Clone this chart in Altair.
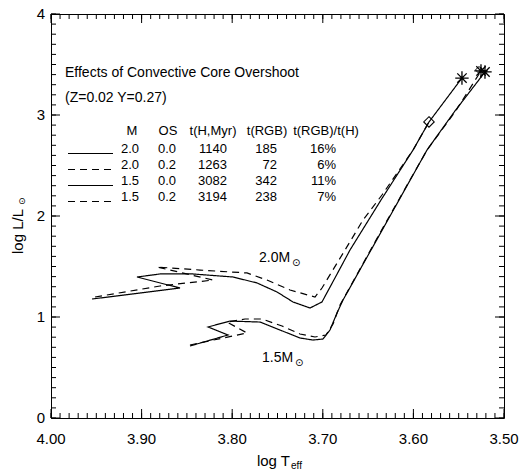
import altair as alt
import pandas as pd

FONT = "Liberation Sans"
SYM = "DejaVu Sans"

# ---------------- data: evolutionary tracks (log Teff, log L/Lsun) ----------------
s20_logT = [3.9547, 3.8576, 3.9051, 3.8797, 3.8433, 3.7991, 3.7726, 3.7506, 3.7329,
            3.7141, 3.7009, 3.6854, 3.6700, 3.6358, 3.6004, 3.5828, 3.5464]
s20_logL = [1.178, 1.287, 1.396, 1.426, 1.426, 1.396, 1.337, 1.248, 1.149,
            1.089, 1.149, 1.406, 1.663, 2.158, 2.653, 2.931, 3.366]

d20_logT = [3.9514, 3.8797, 3.8212, 3.8830, 3.8355, 3.7837, 3.7616, 3.7362, 3.7086,
            3.7009, 3.6755, 3.6556, 3.6347, 3.6004, 3.5828]
d20_logL = [1.198, 1.307, 1.366, 1.495, 1.465, 1.436, 1.366, 1.267, 1.198,
            1.287, 1.663, 1.960, 2.208, 2.653, 2.931]

s15_logT = [3.8466, 3.8046, 3.8267, 3.8024, 3.7693, 3.7472, 3.7252, 3.7108, 3.6998,
            3.6921, 3.6843, 3.6777, 3.6313, 3.5850, 3.5541, 3.5210]
s15_logL = [0.713, 0.822, 0.901, 0.960, 0.950, 0.871, 0.792, 0.772, 0.782,
            0.871, 1.040, 1.168, 1.911, 2.653, 3.040, 3.426]

d15_logT = [3.8466, 3.7837, 3.8057, 3.7859, 3.7671, 3.7450, 3.7252, 3.7086, 3.6965,
            3.6887, 3.6810, 3.6313, 3.5850, 3.5541, 3.5254]
d15_logL = [0.723, 0.842, 0.950, 0.980, 0.980, 0.911, 0.832, 0.802, 0.822,
            0.931, 1.119, 1.921, 2.653, 3.030, 3.436]

# end-point markers
star_logT = [3.5464, 3.5210, 3.5254]
star_logL = [3.366, 3.426, 3.436]
diam_logT = [3.5828]
diam_logL = [2.931]
small_diam_logT = [3.5276]
small_diam_logL = [3.446]

# table
headers = ["M", "OS", "t(H,Myr)", "t(RGB)", "t(RGB)/t(H)"]
rows_M = ["2.0", "2.0", "1.5", "1.5"]
rows_OS = ["0.0", "0.2", "0.0", "0.2"]
rows_tH = ["1140", "1263", "3082", "3194"]
rows_tRGB = ["185", "72", "342", "238"]
rows_pct = ["16%", "6%", "11%", "7%"]
rows_style = ["solid", "dashed", "solid", "dashed"]

title_lines = ["Effects of Convective Core Overshoot", "(Z=0.02 Y=0.27)"]
mass_labels = ["2.0M", "1.5M"]

# axis ticks and tick labels
x_major = [4.0, 3.9, 3.8, 3.7, 3.6, 3.5]
x_labels = ["4.00", "3.90", "3.80", "3.70", "3.60", "3.50"]
x_minor = [round(4.0 - 0.01 * i, 2) for i in range(51)]
y_major = [0, 1, 2, 3, 4]
y_labels = ["0", "1", "2", "3", "4"]
y_minor = [round(0.1 * i, 1) for i in range(41)]

# ---------------- layout constants ----------------
W, H = 453, 404
MAJ, MIN = 9, 5
XS = alt.Scale(domain=[4.0, 3.5], nice=False, zero=False)
YS = alt.Scale(domain=[0, 4], nice=False, zero=False)


def px_T(px):
    return 4.0 - (px - 51) / 906.0


def py_L(py):
    return (418 - py) / 101.0


title_T = px_T(65)
title_L = [py_L(77), py_L(102)]
header_L = py_L(135)
row_L = [py_L(153), py_L(169), py_L(185), py_L(201)]
col_right_T = [px_T(139), px_T(176), px_T(227), px_T(277), px_T(336)]
header_center_T = [px_T(132), px_T(168), px_T(213), px_T(267), px_T(326)]
legend_T = (px_T(68), px_T(113))
mass_T = [px_T(259), px_T(262)]
mass_L = [py_L(262), py_L(362)]
sun_T = [px_T(292), px_T(295)]
sun_L = [py_L(266), py_L(366)]


def track(ts, ls, name, style):
    return pd.DataFrame({"logT": ts, "logL": ls, "track": name, "style": style,
                         "i": list(range(len(ts)))})


tracks = pd.concat([
    track(s20_logT, s20_logL, "2.0/0.0", "solid"),
    track(d20_logT, d20_logL, "2.0/0.2", "dashed"),
    track(s15_logT, s15_logL, "1.5/0.0", "solid"),
    track(d15_logT, d15_logL, "1.5/0.2", "dashed"),
], ignore_index=True)

dash = alt.StrokeDash("style:N", scale=alt.Scale(domain=["solid", "dashed"],
                                                  range=[[1, 0], [7, 5]]), legend=None)

lines = alt.Chart(tracks).mark_line(color="black", strokeWidth=1.2).encode(
    x=alt.X("logT:Q", scale=XS, axis=None),
    y=alt.Y("logL:Q", scale=YS, axis=None),
    detail="track:N", order=alt.Order("i:Q"), strokeDash=dash,
)

legend_df = pd.DataFrame({"t1": [legend_T[0]] * 4, "t2": [legend_T[1]] * 4,
                          "logL": [v - 0.005 for v in row_L], "style": rows_style})
legend_lines = alt.Chart(legend_df).mark_rule(color="black", strokeWidth=1.2).encode(
    x=alt.X("t1:Q", scale=XS, axis=None),
    x2="t2:Q",
    y=alt.Y("logL:Q", scale=YS, axis=None),
    strokeDash=dash,
)


def xticks(values, size, side):
    df = pd.DataFrame({"v": values})
    if side == "bottom":
        y0, y1 = H, H - size
    else:
        y0, y1 = 0, size
    return alt.Chart(df).mark_rule(color="black", strokeWidth=1).encode(
        x=alt.X("v:Q", scale=XS, axis=None), y=alt.value(y0), y2=alt.value(y1))


def yticks(values, size, side):
    df = pd.DataFrame({"v": values})
    if side == "left":
        x0, x1 = 0, size
    else:
        x0, x1 = W, W - size
    return alt.Chart(df).mark_rule(color="black", strokeWidth=1).encode(
        y=alt.Y("v:Q", scale=YS, axis=None), x=alt.value(x0), x2=alt.value(x1))


tick_layers = [
    xticks(x_minor, MIN, "bottom"), xticks(x_major, MAJ, "bottom"),
    xticks(x_minor, MIN, "top"), xticks(x_major, MAJ, "top"),
    yticks(y_minor, MIN, "left"), yticks(y_major, MAJ, "left"),
    yticks(y_minor, MIN, "right"), yticks(y_major, MAJ, "right"),
]

xlab = alt.Chart(pd.DataFrame({"v": x_major, "label": x_labels})).mark_text(
    align="center", baseline="middle", font=FONT, fontSize=15, color="black").encode(
    x=alt.X("v:Q", scale=XS, axis=None), y=alt.value(H + 21), text="label:N")
ylab = alt.Chart(pd.DataFrame({"v": y_major, "label": y_labels})).mark_text(
    align="right", baseline="middle", font=FONT, fontSize=15, color="black").encode(
    y=alt.Y("v:Q", scale=YS, axis=None), x=alt.value(-6), text="label:N")

ASTER = "M0,-1L0,1M-1,0L1,0M-0.7,-0.7L0.7,0.7M-0.7,0.7L0.7,-0.7"
DIAM = "M0,-1L1,0L0,1L-1,0Z"


def points(ts, ls, shape, size, sw):
    return alt.Chart(pd.DataFrame({"logT": ts, "logL": ls})).mark_point(
        shape=shape, size=size, color="black", strokeWidth=sw, filled=False,
        opacity=1).encode(
        x=alt.X("logT:Q", scale=XS, axis=None),
        y=alt.Y("logL:Q", scale=YS, axis=None),
    )


def text_layer(df, align, size=14, font=FONT):
    return alt.Chart(df).mark_text(align=align, baseline="alphabetic", font=font,
                                   fontSize=size, color="black").encode(
        x=alt.X("logT:Q", scale=XS, axis=None),
        y=alt.Y("logL:Q", scale=YS, axis=None),
        text="label:N",
    )


title_df = pd.DataFrame({"logT": [title_T, title_T], "logL": title_L, "label": title_lines})
header_df = pd.DataFrame({"logT": header_center_T, "logL": [header_L] * 5, "label": headers})
cells = []
for col, vals in enumerate([rows_M, rows_OS, rows_tH, rows_tRGB, rows_pct]):
    for r, v in enumerate(vals):
        cells.append({"logT": col_right_T[col], "logL": row_L[r], "label": v})
cells_df = pd.DataFrame(cells)
mass_df = pd.DataFrame({"logT": mass_T, "logL": mass_L, "label": mass_labels})
sun_df = pd.DataFrame({"logT": sun_T, "logL": sun_L, "label": ["⊙", "⊙"]})

# axis titles (with subscripts), placed in pixels relative to the plot area
one = pd.DataFrame({"a": [0]})
xt = alt.Chart(one).mark_text(align="right", baseline="alphabetic", font=FONT,
                              fontSize=15, color="black").encode(
    x=alt.value(239), y=alt.value(452), text=alt.value("log T"))
xt_sub = alt.Chart(one).mark_text(align="left", baseline="alphabetic", font=FONT,
                                  fontSize=10, color="black").encode(
    x=alt.value(240), y=alt.value(455), text=alt.value("eff"))
yt = alt.Chart(one).mark_text(align="left", baseline="middle", font=FONT, fontSize=15,
                              color="black", angle=270).encode(
    x=alt.value(-33), y=alt.value(240), text=alt.value("log L/L"))
yt_sub = alt.Chart(one).mark_text(align="left", baseline="middle", font=SYM, fontSize=9,
                                  color="black", angle=270).encode(
    x=alt.value(-29), y=alt.value(191), text=alt.value("⊙"))

chart = alt.layer(
    lines, legend_lines, *tick_layers, xlab, ylab,
    points(star_logT, star_logL, ASTER, 180, 1.3),
    points(diam_logT, diam_logL, DIAM, 110, 1.1),
    points(small_diam_logT, small_diam_logL, DIAM, 50, 1.0),
    text_layer(title_df, "left"),
    text_layer(header_df, "center", size=13),
    text_layer(cells_df, "right", size=13),
    text_layer(mass_df, "left"),
    text_layer(sun_df, "left", size=10, font=SYM),
    xt, xt_sub, yt, yt_sub,
).properties(
    width=W, height=H,
    padding={"left": 51, "top": 14, "right": 17, "bottom": 54},
    autosize=alt.AutoSizeParams(type="none"),
    background="white",
).configure_view(stroke="black", strokeWidth=1)

chart.save("out.html", embed_options={"renderer": "svg", "actions": False})
